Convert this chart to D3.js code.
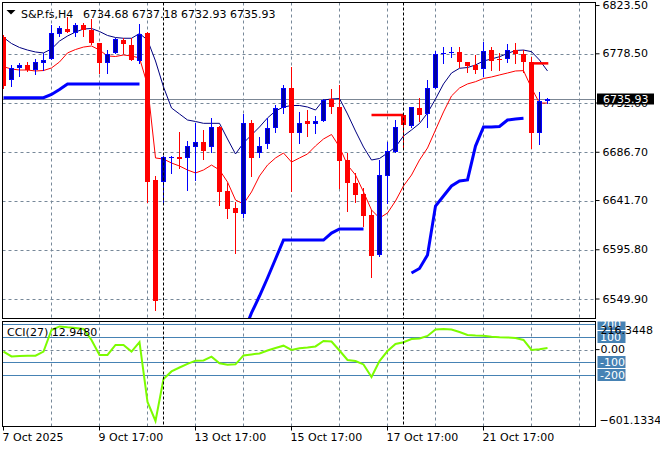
<!DOCTYPE html>
<html><head><meta charset="utf-8">
<script src="https://cdn.jsdelivr.net/npm/d3@7"></script>
<style>
html,body{margin:0;padding:0;background:#fff;}
svg{display:block;font-family:"DejaVu Sans",Verdana,sans-serif;font-size:11px;}
</style></head><body>
<svg id="c" width="660" height="450"></svg>
<script>
// ---------- data ----------
const symbolText = "S&P.fs,H4";
const headerValues = "6734.68 6737.18 6732.93 6735.93";
const open = [6794.2,6754.1,6765.0,6768.1,6763.4,6770.2,6773.4,6797.0,6801.3,6797.6,
6805.4,6800.7,6788.3,6769.7,6779.5,6791.4,6786.7,6771.8,6797.6,6660.9,
6659.3,6681.4,6682.6,6681.1,6691.9,6696.0,6691.3,6710.0,6650.6,6634.5,
6628.9,6714.3,6685.7,6694.1,6709.6,6727.7,6746.3,6705.0,6715.9,6712.8,
6715.9,6736.1,6728.6,6679.5,6658.3,6647.8,6628.2,6590.9,6664.6,6687.2,
6721.4,6711.2,6727.7,6722.1,6746.9,6778.0,6779.0,6779.9,6771.1,6768.1,
6764.1,6782.0,6773.7,6773.4,6782.0,6778.0,6771.1,6704.4,6734.68];
const high = [6796.0,6768.1,6770.2,6771.1,6773.4,6778.9,6805.4,6804.4,6812.5,6806.9,
6807.5,6810.7,6788.9,6782.0,6793.0,6793.0,6793.0,6806.3,6799.1,6664.6,
6683.2,6683.2,6705.3,6697.2,6714.3,6707.4,6718.9,6711.2,6657.8,6640.6,
6722.4,6716.8,6701.2,6718.4,6730.8,6749.4,6766.5,6724.5,6726.1,6720.5,
6736.1,6745.4,6749.4,6685.7,6667.7,6653.1,6632.9,6679.5,6696.6,6716.8,
6723.0,6729.2,6737.0,6754.1,6781.1,6785.1,6785.1,6784.6,6771.3,6777.4,
6789.2,6784.6,6778.9,6787.4,6788.9,6782.0,6775.2,6743.2,6737.18];
const low = [6746.6,6748.5,6757.8,6762.9,6759.7,6763.4,6773.2,6795.1,6798.4,6795.1,
6795.1,6788.1,6760.3,6760.9,6778.9,6778.9,6772.4,6769.7,6640.6,6539.2,
6640.6,6667.7,6671.8,6651.5,6660.9,6680.2,6687.3,6637.6,6625.1,6592.5,
6626.6,6664.6,6682.6,6691.0,6705.9,6723.0,6650.9,6695.1,6701.9,6705.0,
6715.4,6723.6,6653.7,6632.2,6640.6,6618.0,6570.1,6590.0,6639.7,6687.0,
6691.9,6710.7,6716.1,6710.5,6746.3,6769.7,6775.2,6766.5,6761.8,6760.9,
6757.8,6763.4,6763.4,6771.1,6769.7,6761.8,6690.4,6694.4,6732.93];
const close = [6748.5,6765.0,6768.1,6763.4,6771.1,6772.7,6797.6,6802.6,6798.5,6805.4,
6800.7,6788.3,6769.7,6778.3,6792.0,6787.4,6772.7,6796.7,6659.3,6548.0,
6682.6,6682.6,6680.7,6692.6,6696.0,6688.2,6710.0,6649.9,6633.8,6629.8,
6714.3,6681.6,6692.8,6709.1,6727.7,6746.3,6705.0,6713.7,6712.8,6715.9,
6735.4,6728.6,6678.9,6658.3,6646.9,6627.3,6590.0,6665.5,6687.9,6710.0,
6712.1,6728.6,6721.4,6746.3,6778.0,6779.5,6780.5,6770.6,6767.4,6763.4,
6781.1,6772.1,6772.7,6782.0,6778.0,6770.6,6704.4,6734.7,6735.93];
const upperLine = [6793.7,6788.1,6784.4,6782.0,6780.2,6779.3,6783.0,6790.4,6795.1,6798.8,
6801.6,6802.1,6799.3,6795.6,6793.7,6793.0,6793.0,6797.4,6791.4,6771.8,
6747.6,6728.0,6722.4,6716.8,6715.4,6713.7,6713.7,6713.7,6699.1,6685.1,
6695.4,6702.8,6710.3,6718.7,6725.2,6728.9,6730.3,6730.3,6728.9,6726.1,
6735.4,6736.4,6736.8,6722.4,6706.5,6691.6,6679.5,6680.9,6686.0,6691.6,
6701.9,6707.5,6713.5,6723.3,6736.4,6750.4,6760.6,6765.0,6765.7,6768.1,
6771.8,6773.7,6775.8,6778.8,6781.6,6782.0,6780.5,6772.7,6762.5];
const maLine = [6766.5,6764.3,6763.4,6763.4,6762.5,6762.9,6765.3,6770.9,6779.3,6782.5,
6784.8,6785.8,6782.0,6776.5,6776.0,6777.4,6776.5,6774.6,6749.4,6681.4,
6680.4,6676.7,6673.9,6670.2,6667.4,6670.2,6674.8,6670.2,6659.0,6642.2,
6638.5,6649.7,6664.6,6674.8,6681.4,6686.0,6677.6,6681.4,6685.1,6692.6,
6699.1,6703.3,6691.6,6674.8,6665.5,6649.7,6632.9,6625.4,6630.1,6641.3,
6655.3,6665.5,6679.5,6690.7,6707.5,6724.3,6739.2,6746.6,6750.4,6752.5,
6755.5,6756.9,6758.8,6760.6,6762.5,6762.8,6746.6,6732.6,6732.6];
const supportLine = [6737.6,6737.6,6737.6,6737.6,6737.6,6737.6,6740.6,6745.2,6750.4,6750.4,
6750.4,6750.4,6750.4,6750.4,6750.4,6750.4,6750.4,6750.4,null,null,
null,null,null,null,null,null,null,null,null,null,
6518.2,6536.9,6552.7,6569.5,6587.2,6604.9,6604.9,6604.9,6604.9,6604.9,
6604.9,6611.4,6615.2,6615.2,6615.2,6615.2,null,null,null,null,
null,6574.2,6578.4,6590.9,6636.6,6645.9,6655.3,6659.9,6660.9,6692.5,
6710.3,6710.3,6710.7,6716.8,6717.7,6718.4,null,null,null];
const levelStart = [46, 66];
const levelEnd = [50, 68.1];
const levelValue = [6721.4, 6769.6];
const cci = [-15,-54,-50,-48,-48,-15,155,183,176,171,
163,76,-42,-42,37,37,-15,60,-413,-563,
-232,-172,-141,-113,-87,-86,-56,-108,-119,-116,
-46,-38,-30,-7,13,31,-3,11,17,25,
68,64,-7,-82,-90,-117,-216,-90,-11,45,
58,84,88,108,159,163,159,139,116,112,
110,101,97,96,92,76,-3,3,12.948];
const cciLabel = "CCI(27) 12.9480";
const cciMax = 216.3448, cciMin = -601.1334;
const cciLevels = [200, 100, -100, -200];
const priceTicks = [6823.50, 6778.50, 6732.60, 6686.70, 6641.70, 6595.80, 6549.90];
const lastPrice = 6735.93;
const gridBars = [6,12,18,24,30,36,42,48,54,60,66,72];
const timeBars = [0,12,24,36,48,60];
const timeTexts = ["7 Oct 2025","9 Oct 17:00","13 Oct 17:00","15 Oct 17:00","17 Oct 17:00","21 Oct 17:00"];
const separatorBars = [20, 50];

// ---------- layout ----------
const mainL = 2.5, mainR = 595.5, mainT = 2.5, mainB = 318.5;
const cciT = 321.5, cciB = 426.5;
const gridCol = "#778899", levelCol = "#4682b4";

const x = d3.scaleLinear().domain([0, 74]).range([3.5, 595.5]);
const y = d3.scaleLinear().domain([6532.2, 6826.8]).range([318, 2]);
const cy = d3.scaleLinear().domain([cciMin, cciMax]).range([425.8, 322.2]);

const svg = d3.select("#c");
svg.append("rect").attr("width",660).attr("height",450).attr("fill","#fff");
const defs = svg.append("defs");
defs.append("clipPath").attr("id","clipMain").append("rect")
  .attr("x",mainL+0.5).attr("y",mainT+0.5).attr("width",mainR-mainL-1).attr("height",mainB-mainT-1);
defs.append("clipPath").attr("id","clipCci").append("rect")
  .attr("x",mainL+0.5).attr("y",cciT+0.5).attr("width",mainR-mainL-1).attr("height",cciB-cciT-1);

// ---------- main panel ----------
const mg = svg.append("g").attr("clip-path","url(#clipMain)");
// grid
mg.selectAll(".vg").data(gridBars).enter().append("line")
  .attr("x1",d=>x(d)).attr("x2",d=>x(d)).attr("y1",mainT).attr("y2",mainB)
  .attr("stroke",gridCol).attr("stroke-dasharray","3,3");
mg.selectAll(".hg").data(priceTicks.filter(t=>y(t)>8)).enter().append("line")
  .attr("x1",mainL).attr("x2",mainR).attr("y1",d=>Math.round(y(d))+0.5).attr("y2",d=>Math.round(y(d))+0.5)
  .attr("stroke",gridCol).attr("stroke-dasharray","3,3");
// current price line
mg.append("line").attr("x1",mainL).attr("x2",mainR)
  .attr("y1",Math.round(y(lastPrice))+0.5).attr("y2",Math.round(y(lastPrice))+0.5)
  .attr("stroke","#7b8694");

// indicator lines
const bars = d3.range(open.length);
mg.append("path").datum(bars)
  .attr("d", d3.line().defined(i=>supportLine[i]!=null).x(i=>x(i)).y(i=>y(supportLine[i])))
  .attr("fill","none").attr("stroke","#0000ff").attr("stroke-width",3);
mg.append("path").datum(bars)
  .attr("d", d3.line().x(i=>x(i)).y(i=>y(upperLine[i])))
  .attr("fill","none").attr("stroke","#000080").attr("stroke-width",1);
mg.append("path").datum(bars)
  .attr("d", d3.line().x(i=>x(i)).y(i=>y(maLine[i])))
  .attr("fill","none").attr("stroke","#ff0000").attr("stroke-width",1);

// candles
bars.forEach(i=>{
  const bull = close[i] >= open[i];
  const xc = x(i);
  const col = bull ? "#0000ff" : "#ff0000";
  mg.append("line").attr("x1",xc).attr("x2",xc)
    .attr("y1",Math.round(y(high[i]))).attr("y2",Math.round(y(low[i]))+1)
    .attr("stroke",col);
  const t = Math.round(y(Math.max(open[i],close[i])));
  const b = Math.round(y(Math.min(open[i],close[i])));
  const h = Math.max(1, b - t);
  if (bull && h >= 3) {
    mg.append("rect").attr("x",xc-2).attr("y",t+0.5).attr("width",4).attr("height",h-1)
      .attr("fill","#0000a0").attr("stroke","#0000ff");
  } else {
    mg.append("rect").attr("x",xc-2.5).attr("y",t).attr("width",5).attr("height",h)
      .attr("fill",col);
  }
});

// red level segments
levelValue.forEach((v,k)=>{
  mg.append("line").attr("x1",x(levelStart[k])).attr("x2",x(levelEnd[k]))
    .attr("y1",y(v)).attr("y2",y(v)).attr("stroke","#ff0000").attr("stroke-width",2.5);
});

// separators
mg.selectAll(".sep").data(separatorBars).enter().append("line")
  .attr("x1",d=>x(d)).attr("x2",d=>x(d)).attr("y1",mainT).attr("y2",mainB)
  .attr("stroke","#000").attr("stroke-dasharray","3,2");

// frame
svg.append("rect").attr("x",mainL).attr("y",mainT).attr("width",mainR-mainL).attr("height",mainB-mainT)
  .attr("fill","none").attr("stroke","#000");

// header
svg.append("path").attr("d","M6.5,10 L15.5,10 L11,14.5 Z").attr("fill","#000");
svg.append("text").attr("x",21).attr("y",17.5).attr("fill","#000").text(symbolText);
svg.append("text").attr("x",83).attr("y",17.5).attr("fill","#000").text(headerValues);

// price axis
const ya = svg.append("g").attr("transform",`translate(${mainR},0)`)
  .call(d3.axisRight(y).tickValues(priceTicks).tickSize(4).tickPadding(3).tickFormat(d3.format(".2f")).offset(0));
ya.select(".domain").remove();
ya.attr("font-family",null).attr("font-size",null);
ya.selectAll("text").attr("fill","#000");
ya.selectAll("line").attr("stroke","#000");
// last price box
const ly = Math.round(y(lastPrice));
svg.append("rect").attr("x",597).attr("y",ly-5.5).attr("width",57).attr("height",11).attr("fill","#000");
svg.append("text").attr("x",603).attr("y",ly+4).attr("fill","#fff").text(d3.format(".2f")(lastPrice));

// ---------- CCI panel ----------
const cg = svg.append("g").attr("clip-path","url(#clipCci)");
cg.selectAll(".vg").data(gridBars).enter().append("line")
  .attr("x1",d=>x(d)).attr("x2",d=>x(d)).attr("y1",cciT).attr("y2",cciB)
  .attr("stroke",gridCol).attr("stroke-dasharray","3,3");
cg.append("line").attr("x1",mainL).attr("x2",mainR)
  .attr("y1",Math.round(cy(0))+0.5).attr("y2",Math.round(cy(0))+0.5)
  .attr("stroke",gridCol).attr("stroke-dasharray","3,3");
cg.selectAll(".lv").data(cciLevels).enter().append("line")
  .attr("x1",mainL).attr("x2",mainR)
  .attr("y1",d=>Math.round(cy(d))+0.5).attr("y2",d=>Math.round(cy(d))+0.5)
  .attr("stroke",levelCol);
cg.append("path").datum(bars)
  .attr("d", d3.line().x(i=>x(i)).y(i=>cy(cci[i])))
  .attr("fill","none").attr("stroke","#7cfc00").attr("stroke-width",2);
cg.selectAll(".sep").data(separatorBars).enter().append("line")
  .attr("x1",d=>x(d)).attr("x2",d=>x(d)).attr("y1",cciT).attr("y2",cciB)
  .attr("stroke","#000").attr("stroke-dasharray","3,2");
svg.append("rect").attr("x",mainL).attr("y",cciT).attr("width",mainR-mainL).attr("height",cciB-cciT)
  .attr("fill","none").attr("stroke","#000");
svg.append("text").attr("x",7).attr("y",336).attr("fill","#000").text(cciLabel);

// CCI axis labels
const lg = svg.append("g");
cciLevels.forEach(v=>{
  const ry = Math.round(cy(v));
  const top = Math.max(ry-6, cciT);
  lg.append("rect").attr("x",597.5).attr("y",top).attr("width",28).attr("height",ry+6-top).attr("fill",levelCol);
});
const lgc = lg.append("g").attr("clip-path",null);
cciLevels.forEach(v=>{
  const ry = Math.round(cy(v));
  lg.append("text").attr("x",600).attr("y",ry+4).attr("fill","#fff").text(String(v));
});
const ca = svg.append("g").attr("transform",`translate(${mainR},0)`)
  .call(d3.axisRight(cy).tickValues([0]).tickSize(4).tickPadding(1).tickFormat(d3.format(".2f")).offset(0));
ca.select(".domain").remove();
ca.attr("font-family",null).attr("font-size",null);
ca.selectAll("text").attr("fill","#000");
ca.selectAll("line").attr("stroke","#000");
svg.append("text").attr("x",600.5).attr("y",cciT+12.5).attr("fill","#000").text(d3.format(".4f")(cciMax));
svg.append("text").attr("x",599.5).attr("y",cciB-3).attr("fill","#000").text(d3.format(".4f")(cciMin));

// ---------- time axis ----------
const xa = svg.append("g").attr("transform",`translate(0,${cciB})`)
  .call(d3.axisBottom(x).tickValues(timeBars).tickSize(4).tickPadding(3).offset(0)
    .tickFormat((d,i)=>timeTexts[i]));
xa.select(".domain").remove();
xa.attr("font-family",null).attr("font-size",null);
xa.selectAll("text").attr("fill","#000").attr("text-anchor","start").attr("x",-1);
xa.selectAll("line").attr("stroke","#000");
</script>
</body></html>
